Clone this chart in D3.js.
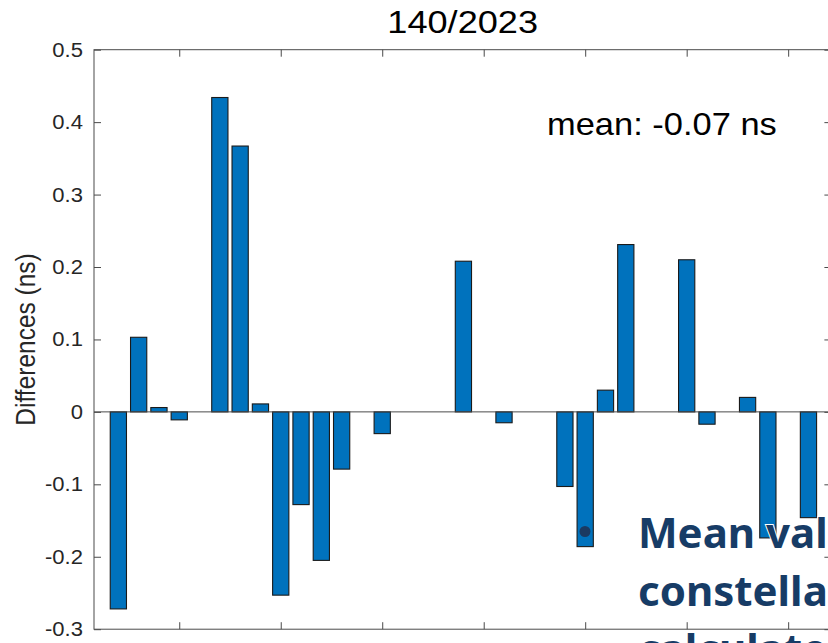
<!DOCTYPE html>
<html>
<head>
<meta charset="utf-8">
<script src="https://cdn.jsdelivr.net/npm/d3@7"></script>
<style>
  html, body { margin: 0; padding: 0; background: #fff; overflow: hidden; }
  svg { display: block; }
</style>
</head>
<body>
<svg id="chart" width="828" height="643"></svg>
<script>
// Satellite numbers and clock differences (ns) for day 140/2023
const prns = [2, 3, 4, 5, 7, 8, 9, 10, 11, 12, 13, 15, 19, 21, 24, 25, 26, 27, 30, 31, 33, 34, 36];
const diffs = [-0.272, 0.103, 0.006, -0.011, 0.434, 0.367, 0.011, -0.253, -0.128, -0.205, -0.079, -0.030,
               0.208, -0.015, -0.103, -0.186, 0.030, 0.231, 0.210, -0.017, 0.020, -0.174, -0.146];
const yTicks = [-0.3, -0.2, -0.1, 0, 0.1, 0.2, 0.3, 0.4, 0.5];
const yTickLabels = ["-0.3", "-0.2", "-0.1", "0", "0.1", "0.2", "0.3", "0.4", "0.5"];
const xTicks = [5, 10, 15, 20, 25, 30, 35];
const titleText = "140/2023";
const yLabelText = "Differences (ns)";
const meanText = "mean: -0.07 ns";
const noteLines = ["Mean value of", "constellation", "calculated"];

const svg = d3.select("#chart");
const plotLeft = 94, plotRight = 831.4, plotTop = 49.7, plotBottom = 629.2;
const x = d3.scaleLinear().domain([0.8, 37.13]).range([plotLeft, plotRight]);
const y = d3.scaleLinear().domain([-0.3, 0.5]).range([plotBottom, plotTop]);
const barW = x(0.8) - x(0);
const axisColor = "#4a4a4a";
const textColor = "#262626";
const stretch = 1.13;
const font = "'Liberation Sans', Arial, Helvetica, sans-serif";

// bars
svg.append("g").selectAll("rect")
  .data(prns.map((p, i) => ({ p, v: diffs[i] })))
  .join("rect")
  .attr("x", d => x(d.p) - barW / 2)
  .attr("width", barW)
  .attr("y", d => y(Math.max(0, d.v)))
  .attr("height", d => Math.abs(y(d.v) - y(0)))
  .attr("fill", "#0072BD")
  .attr("stroke", "#1a1a1a")
  .attr("stroke-width", 1.1);

// zero baseline
svg.append("line")
  .attr("x1", plotLeft).attr("x2", plotRight)
  .attr("y1", y(0)).attr("y2", y(0))
  .attr("stroke", axisColor).attr("stroke-width", 1);

// axes, ticks pointing inward on all four sides
const tickLen = 7;
const axL = d3.axisRight(y).tickValues(yTicks).tickSize(tickLen).tickFormat("");
const axR = d3.axisLeft(y).tickValues(yTicks).tickSize(tickLen).tickFormat("");
const axB = d3.axisTop(x).tickValues(xTicks).tickSize(tickLen).tickFormat("");
const axT = d3.axisBottom(x).tickValues(xTicks).tickSize(tickLen).tickFormat("");
[[axL, `translate(${plotLeft},0)`], [axR, `translate(${plotRight},0)`],
 [axB, `translate(0,${plotBottom})`], [axT, `translate(0,${plotTop})`]].forEach(([ax, tr]) => {
  const g = svg.append("g").attr("transform", tr).call(ax);
  g.select(".domain").remove();
  g.selectAll("line").attr("stroke", axisColor).attr("stroke-width", 1);
});
// plot box
svg.append("rect")
  .attr("x", plotLeft).attr("y", plotTop)
  .attr("width", plotRight - plotLeft).attr("height", plotBottom - plotTop)
  .attr("fill", "none").attr("stroke", axisColor).attr("stroke-width", 1);

// y tick labels
svg.append("g").selectAll("text")
  .data(yTicks)
  .join("text")
  .attr("transform", d => `translate(${plotLeft - 11},${y(d) + 7}) scale(${stretch},1)`)
  .attr("text-anchor", "end")
  .attr("font-family", font)
  .attr("font-size", 19.5)
  .attr("fill", textColor)
  .text((d, i) => yTickLabels[i]);

// y axis label
svg.append("text")
  .attr("transform", `translate(35,${(plotTop + plotBottom) / 2}) rotate(-90) scale(1,${stretch})`)
  .attr("text-anchor", "middle")
  .attr("font-family", font)
  .attr("font-size", 24.5)
  .attr("fill", textColor)
  .text(yLabelText);

// title
svg.append("text")
  .attr("transform", `translate(${(plotLeft + plotRight) / 2},33) scale(${stretch},1)`)
  .attr("text-anchor", "middle")
  .attr("font-family", font)
  .attr("font-size", 32)
  .attr("fill", "#000")
  .text(titleText);

// mean annotation
svg.append("text")
  .attr("transform", `translate(547,135) scale(${stretch},1)`)
  .attr("font-family", font)
  .attr("font-size", 30.5)
  .attr("fill", "#000")
  .text(meanText);

// slide note over the chart
svg.append("circle")
  .attr("cx", 585).attr("cy", 531.5).attr("r", 5.5)
  .attr("fill", "#1b3a62");
svg.append("g").selectAll("text")
  .data(noteLines)
  .join("text")
  .attr("x", 638)
  .attr("y", (d, i) => 548 + i * 58)
  .attr("font-family", "'Noto Sans', 'Open Sans', sans-serif")
  .attr("font-weight", 700)
  .attr("font-size", 42)
  .attr("fill", "#173c66")
  .attr("stroke", "#ffffff")
  .attr("stroke-width", 2)
  .attr("paint-order", "stroke")
  .text(d => d);
</script>
</body>
</html>
